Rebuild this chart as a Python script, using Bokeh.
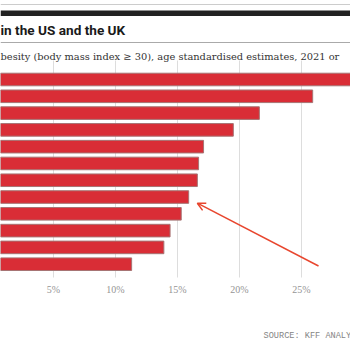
from bokeh.plotting import figure
from bokeh.models import Range1d, Label, BoxAnnotation, Span, Arrow, OpenHead, ColumnDataSource
from bokeh.core.properties import value
from bokeh.embed import file_html
from bokeh.resources import INLINE

# ---- data ----
rank = list(range(12))
obesity_pct = [36.0, 25.9, 21.6, 19.5, 17.1, 16.7, 16.6, 15.9, 15.3, 14.4, 13.9, 11.3]
tick_values = [5, 10, 15, 20, 25]
tick_labels = ["5%", "10%", "15%", "20%", "25%"]

title_text = "in the US and the UK"
subtitle_text = "besity (body mass index \u2265 30), age standardised estimates, 2021 or"
source_text = "SOURCE: KFF ANALY"

p = figure(width=350, height=350,
           x_range=Range1d(0.726, 28.95),
           y_range=Range1d(16.14, -4.705),
           min_border=0, toolbar_location=None, output_backend="svg",
           x_axis_location=None, y_axis_location=None,
           outline_line_color=None, background_fill_color="white")
p.grid.visible = False
p.extra_y_ranges = {"px": Range1d(350, 0)}

# gridlines
gsrc = ColumnDataSource(dict(x=tick_values, t=tick_labels,
                             y0=[60] * len(tick_values), y1=[277] * len(tick_values)))
p.segment(x0="x", y0="y0", x1="x", y1="y1", source=gsrc, y_range_name="px",
          line_color="#dddddd", line_width=1)

# bars
src = ColumnDataSource(dict(y=rank, v=obesity_pct))
p.hbar(y="y", left=0, right="v", height=0.75, source=src,
       fill_color="#d92d36", line_color="#a67474", line_width=1)

# tick labels
p.text(x="x", y=289, text="t", source=gsrc, y_range_name="px",
       text_font=value("Liberation Sans Narrow"), text_font_size="10px",
       text_color="#959595", text_align="center", text_baseline="middle")

# header rules
p.add_layout(BoxAnnotation(top=10, bottom=15.5, y_range_name="px",
                           fill_color="#222222", fill_alpha=1, line_color=None))
p.add_layout(Span(location=4, dimension="width", y_range_name="px",
                  line_color="#cccccc", line_width=1))
p.add_layout(Span(location=42, dimension="width", y_range_name="px",
                  line_color="#aaaaaa", line_width=1))

# titles
p.add_layout(Label(x=0, x_units="screen", y=29.5, y_range_name="px", text=title_text,
                   text_font="Roboto", text_font_style="bold",
                   text_font_size="13.6px", text_color="#1a1a1a",
                   text_baseline="alphabetic"))
p.add_layout(Label(x=0, x_units="screen", y=56, y_range_name="px", text=subtitle_text,
                   text_font="DejaVu Serif", text_font_size="9.85px",
                   text_color="#333333", text_baseline="alphabetic"))
p.add_layout(Label(x=263, x_units="screen", y=335, y_range_name="px", text=source_text,
                   text_font="Liberation Mono", text_font_size="8.6px",
                   text_color="#858585", text_baseline="middle"))

# annotation arrow
p.add_layout(Arrow(end=OpenHead(size=8, line_color="#e8462e", line_width=1.5),
                   x_start=26.37, y_start=265.5, x_end=16.6, y_end=202.7,
                   y_range_name="px", line_color="#e8462e", line_width=1.5))

open("out.html", "w").write(file_html(p, INLINE))
